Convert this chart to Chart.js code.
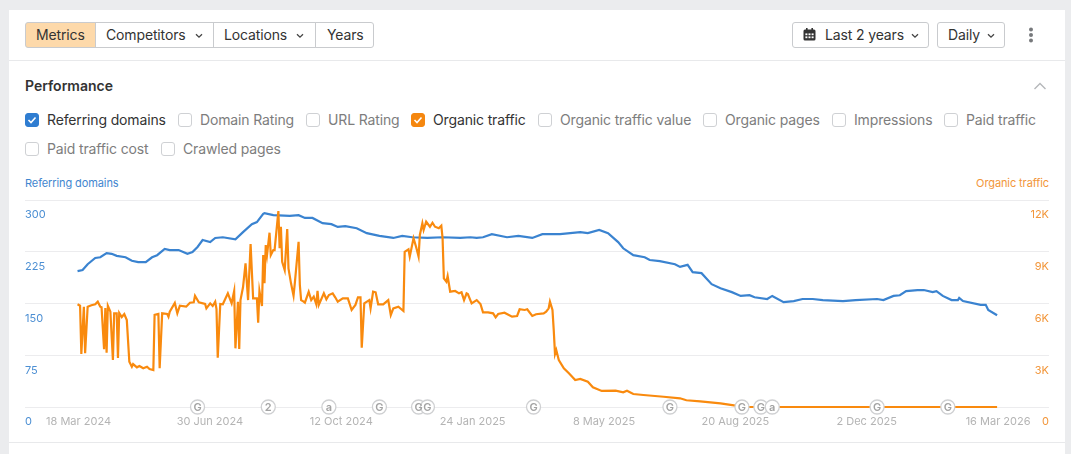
<!DOCTYPE html>
<html>
<head>
<meta charset="utf-8">
<title>Performance</title>
<script src="https://cdn.jsdelivr.net/npm/chart.js@4"></script>
<style>
  html, body { margin: 0; height: 454px; overflow: hidden; background: #ebecee; font-family: Inter, sans-serif; color: #333; }
  #card { position: absolute; left: 9px; top: 10px; width: 1056px; height: 444px; background: #fff; }
  #page { position: absolute; left: 0; top: 0; width: 1071px; height: 454px; }
  .hr { position: absolute; left: 9px; width: 1056px; height: 1px; background: #e8e9eb; }
  .btn { position: absolute; top: 22px; height: 26px; box-sizing: border-box; border: 1px solid #c9cbce; background: #fff; font-size: 14px; line-height: 24px; white-space: nowrap; letter-spacing: -0.14px; }
  .btn svg { vertical-align: 1px; }
  .lbl { position: absolute; font-size: 14px; line-height: 18px; white-space: nowrap; color: #7d7d7d; letter-spacing: -0.14px; }
  .lbl.on { color: #333; }
  .box { position: absolute; width: 14px; height: 14px; box-sizing: border-box; border: 1px solid #cfd1d4; border-radius: 3px; background: #fff; }
  .axis-name { position: absolute; top: 177px; font-size: 11px; line-height: 13px; white-space: nowrap; letter-spacing: -0.1px; }
  canvas { position: absolute; left: 0; top: 190px; }
</style>
</head>
<body>
<div id="card"></div>
<div id="page">
  <div class="hr" style="top:60px"></div>
  <div class="hr" style="top:442px"></div>
  <div style="position:absolute;left:25px;top:77px;font-size:14px;line-height:18px;font-weight:600">Performance</div>
  <svg style="position:absolute;left:1033px;top:81px" width="14" height="10"><path d="M1.5 8 L7 2.5 L12.5 8" fill="none" stroke="#b5b7ba" stroke-width="1.4"/></svg>
  <div class="axis-name" style="left:25px;color:#3f86cf">Referring domains</div>
  <div class="axis-name" style="right:22px;color:#f2963a">Organic traffic</div>
  <svg style="position:absolute;left:1028px;top:27px" width="6" height="16"><circle cx="3" cy="2.5" r="2" fill="#77797c"/><circle cx="3" cy="8" r="2" fill="#77797c"/><circle cx="3" cy="13.5" r="2" fill="#77797c"/></svg>
  <canvas id="chart" width="1071" height="250"></canvas>
</div>
<script>
// Data. Days count from 18 Mar 2024.
const tickDays = [0, 104, 208, 312, 416, 520, 624, 728];
const tickLabels = ['18 Mar 2024', '30 Jun 2024', '12 Oct 2024', '24 Jan 2025', '8 May 2025', '20 Aug 2025', '2 Dec 2025', '16 Mar 2026'];
const refTicks = { 0: '0', 75: '75', 150: '150', 225: '225', 300: '300' };
const orgTicks = { 0: '0', 3000: '3K', 6000: '6K', 9000: '9K', 12000: '12K' };

const refDays = [0, 4, 8, 14, 18, 23, 27, 31, 38, 43, 48, 54, 59, 63, 69, 73, 80, 87, 91, 95, 99, 105, 109, 115, 125, 131, 138, 142, 147, 148, 155, 168, 175, 180, 186, 194, 201, 206, 212, 221, 229, 239, 250, 257, 265, 277, 289, 303, 311, 316, 321, 328, 340, 349, 360, 368, 382, 398, 404, 413, 420, 428, 432, 440, 449, 453, 461, 473, 477, 483, 487, 494, 502, 509, 518, 525, 532, 536, 546, 550, 559, 567, 574, 582, 590, 606, 616, 633, 638, 646, 651, 656, 665, 670, 677, 680, 685, 692, 697, 698, 701, 715, 719, 721, 728];
const refValues = [197, 198.5, 207, 216, 217, 223, 222, 219, 217, 212, 210, 210, 217, 220, 229, 227.5, 227.5, 222, 224.5, 232, 242, 239, 245, 246, 243, 253.5, 265, 268, 280, 281, 278, 277, 278, 274, 274, 266.5, 265, 261, 262, 259, 252, 248, 245, 248, 246, 245, 246, 245, 246, 245, 246, 250.5, 246, 248, 245, 250.5, 250.5, 253.5, 252, 256.5, 252, 239, 230, 220, 217, 213, 211.5, 207, 203, 206, 195.5, 194, 178, 172, 166.5, 161, 162, 159, 156.5, 161, 152, 153.5, 156.5, 156.5, 155, 153.5, 155, 156.5, 155, 161, 162, 168, 169.5, 169.5, 166.5, 168, 161, 155, 155, 158, 153.5, 148, 148, 140.5, 133];

const orgDays = [0, 2, 3, 5, 6, 8, 11, 14, 16, 18, 19, 21, 22, 23, 24, 26, 28, 29, 31, 32, 33, 35, 37, 39, 41, 43, 44, 47, 49, 52, 55, 57, 60, 61, 64, 65, 67, 71, 72, 73, 77, 79, 81, 86, 89, 92, 93, 96, 101, 102, 105, 107, 109, 110, 111, 113, 115, 119, 122, 124, 125, 127, 128, 129, 131, 133, 135, 137, 139, 142, 143, 144, 146, 147, 148, 149, 150, 152, 153, 155, 156, 159, 160, 161, 162, 164, 166, 167, 169, 171, 172, 175, 176, 177, 179, 180, 183, 185, 187, 189, 190, 191, 195, 197, 199, 202, 204, 206, 210, 214, 217, 220, 222, 224, 225, 227, 231, 232, 234, 236, 238, 242, 246, 248, 250, 254, 258, 259, 262, 263, 266, 268, 270, 271, 273, 274, 276, 279, 281, 283, 286, 288, 289, 290, 292, 293, 295, 299, 302, 304, 306, 308, 309, 312, 316, 319, 321, 325, 329, 331, 333, 338, 344, 348, 350, 354, 356, 360, 363, 369, 371, 373, 374, 376, 377, 378, 379, 381, 385, 389, 394, 398, 404, 408, 415, 426, 432, 435, 440, 448, 464, 477, 482, 493, 509, 521, 527, 728];
const orgValues = [5955, 5870, 3070, 5815, 3115, 5815, 5895, 5955, 6105, 5815, 5780, 3345, 5740, 3150, 5870, 5525, 2725, 5430, 5430, 2840, 5450, 5215, 5390, 5040, 2625, 2335, 2490, 2300, 2375, 2245, 2335, 2200, 2145, 5335, 5390, 2245, 5430, 5390, 5235, 5525, 6030, 5430, 5870, 5815, 6045, 6070, 6450, 6070, 5970, 5720, 6010, 5855, 6105, 5680, 2860, 5970, 5955, 6590, 6010, 6725, 3400, 6105, 3360, 6200, 6940, 8330, 6200, 9450, 6300, 6300, 4885, 6725, 5855, 8810, 7170, 9390, 8810, 10105, 8810, 9100, 9100, 11360, 9200, 10450, 8420, 7940, 10320, 8040, 7170, 6450, 7170, 9580, 7070, 6200, 6105, 6045, 6680, 6200, 6395, 5955, 6740, 5915, 6590, 6245, 6490, 6590, 6360, 6105, 6300, 6300, 5625, 5915, 6360, 6360, 3440, 6010, 6200, 5720, 6685, 6650, 5955, 5955, 6200, 5335, 5720, 5815, 5565, 9000, 9140, 8715, 9780, 9290, 8715, 9970, 10650, 10260, 10740, 10450, 10680, 10450, 10360, 10510, 9780, 7460, 7265, 7590, 6685, 6725, 6590, 6650, 6200, 6590, 6550, 6010, 6200, 5970, 5490, 5490, 5430, 5200, 5390, 5465, 5235, 5275, 5665, 5625, 5665, 5275, 5375, 5430, 5525, 5720, 6105, 5625, 4465, 3070, 3305, 2725, 2245, 1955, 1565, 1625, 1465, 1140, 930, 945, 850, 945, 755, 695, 595, 505, 390, 330, 215, 75, 0, 0];

const noteDays = [95, 151, 199, 239, 270, 277, 361, 469, 526, 541, 550, 633, 689];
const noteLetters = ['G', '2', 'a', 'G', 'G', 'G', 'G', 'G', 'G', 'G', 'a', 'G', 'G'];

// Top bar and metric checkboxes
const barButtons = [
  { text: 'Metrics', left: 25, width: 71, pad: 10, on: true },
  { text: 'Competitors', left: 95, width: 119, pad: 10, arrow: true },
  { text: 'Locations', left: 213, width: 103, pad: 10, arrow: true },
  { text: 'Years', left: 315, width: 59, pad: 11 },
];
const metricNames = ['Referring domains', 'Domain Rating', 'URL Rating', 'Organic traffic', 'Organic traffic value', 'Organic pages', 'Impressions', 'Paid traffic', 'Paid traffic cost', 'Crawled pages'];
const metricLefts = [25, 178, 306, 411, 538, 703, 832, 944, 25, 161];
const metricRows = [120, 120, 120, 120, 120, 120, 120, 120, 149, 149];
const metricColors = { 'Referring domains': '#2f7dd1', 'Organic traffic': '#f5870f' };

const page = document.getElementById('page');
const arrow = '<svg width="8" height="6" style="margin-left:9px"><path d="M1 1.2 L4 4.2 L7 1.2" fill="none" stroke="#444" stroke-width="1.3"/></svg>';

barButtons.forEach((b, i) => {
  const el = document.createElement('div');
  el.className = 'btn';
  el.style.cssText = `left:${b.left}px;width:${b.width}px;padding-left:${b.pad}px;` +
    (b.on ? 'background:#fdd9aa;' : '') +
    (i === 0 ? 'border-radius:3px 0 0 3px;' : '') +
    (i === barButtons.length - 1 ? 'border-radius:0 3px 3px 0;' : '');
  el.innerHTML = b.text + (b.arrow ? arrow : '');
  page.appendChild(el);
});

const calendar = '<svg width="13" height="13" style="margin-right:9px;vertical-align:-1px"><rect x="0.5" y="1.5" width="12" height="11" rx="1.5" fill="#333"/><rect x="3" y="0" width="1.6" height="3" fill="#333"/><rect x="8.4" y="0" width="1.6" height="3" fill="#333"/><g fill="#fff"><rect x="2.4" y="5.4" width="2" height="1.8"/><rect x="5.5" y="5.4" width="2" height="1.8"/><rect x="8.6" y="5.4" width="2" height="1.8"/><rect x="2.4" y="8.4" width="2" height="1.8"/><rect x="5.5" y="8.4" width="2" height="1.8"/><rect x="8.6" y="8.4" width="2" height="1.8"/></g></svg>';
[['Last 2 years', 792, 137, 10, calendar], ['Daily', 937, 68, 10, '']].forEach(([text, left, width, pad, icon]) => {
  const el = document.createElement('div');
  el.className = 'btn';
  el.style.cssText = `left:${left}px;width:${width}px;padding-left:${pad}px;border-radius:3px;`;
  el.innerHTML = icon + text + arrow.replace('margin-left:9px', 'margin-left:7px');
  page.appendChild(el);
});

metricNames.forEach((name, i) => {
  const color = metricColors[name];
  const box = document.createElement('div');
  box.className = 'box';
  box.style.left = metricLefts[i] + 'px';
  box.style.top = (metricRows[i] - 7) + 'px';
  if (color) {
    box.style.background = color;
    box.style.borderColor = color;
    box.innerHTML = '<svg width="12" height="12" style="display:block"><path d="M2.5 6 L5 8.5 L9.5 3.5" fill="none" stroke="#fff" stroke-width="1.6"/></svg>';
  }
  page.appendChild(box);
  const lbl = document.createElement('div');
  lbl.className = 'lbl' + (color ? ' on' : '');
  lbl.style.left = (metricLefts[i] + 22) + 'px';
  lbl.style.top = (metricRows[i] - 9) + 'px';
  lbl.textContent = name;
  page.appendChild(lbl);
});

// Letters inside the annotation badges on the baseline
const noteLettersPlugin = {
  id: 'noteLetters',
  afterDatasetsDraw(chart) {
    const { ctx } = chart;
    chart.getDatasetMeta(0).data.forEach((pt, i) => {
      ctx.save();
      ctx.font = '600 11px Inter, sans-serif';
      ctx.fillStyle = '#a3a3a3';
      ctx.textAlign = 'center';
      ctx.textBaseline = 'middle';
      ctx.fillText(noteLetters[i], pt.x, pt.y + 0.5);
      ctx.restore();
    });
  },
};

const pairs = (xs, ys) => xs.map((x, i) => ({ x, y: ys[i] }));
const noFit = (w) => (scale) => { scale.width = w; };
const tickFont = { family: 'Inter, sans-serif', size: 11 };

new Chart(document.getElementById('chart'), {
  type: 'line',
  data: {
    datasets: [
      {
        label: 'Notes', data: noteDays.map((x) => ({ x, y: 0 })), yAxisID: 'y',
        showLine: false, clip: false, pointRadius: 7, pointBorderWidth: 1.3,
        pointBackgroundColor: '#fff', pointBorderColor: '#cfd0d2',
      },
      {
        label: 'Organic traffic', data: pairs(orgDays, orgValues), yAxisID: 'y1', clip: false,
        borderColor: '#f98a0e', borderWidth: 2.2, pointRadius: 0, tension: 0,
      },
      {
        label: 'Referring domains', data: pairs(refDays, refValues), yAxisID: 'y',
        borderColor: '#3a83d0', borderWidth: 2.2, pointRadius: 0, tension: 0,
      },
    ],
  },
  options: {
    responsive: false,
    animation: false,
    layout: { padding: { left: 25, right: 22, top: 10, bottom: 0 } },
    plugins: { legend: { display: false }, tooltip: { enabled: false } },
    scales: {
      x: {
        type: 'linear', min: -41.6, max: 769.1,
        afterBuildTicks: (scale) => { scale.ticks = tickDays.map((value) => ({ value })); },
        afterFit: (scale) => { scale.height = 33; },
        grid: { display: false, drawTicks: false }, border: { display: false },
        ticks: {
          autoSkip: false, maxRotation: 0, padding: 8, labelOffset: 1,
          color: '#b4b4b4', font: tickFont,
          callback: (v) => tickLabels[tickDays.indexOf(v)],
        },
      },
      y: {
        position: 'left', min: 0, max: 300,
        afterFit: noFit(0),
        grid: { color: '#ececee', drawTicks: false }, border: { display: false },
        ticks: {
          stepSize: 75, mirror: true, padding: 0, labelOffset: 15,
          color: '#4c8fd3', font: tickFont,
          callback: (v) => refTicks[v],
        },
      },
      y1: {
        position: 'right', min: 0, max: 12000,
        afterFit: noFit(0),
        grid: { display: false, drawTicks: false }, border: { display: false },
        ticks: {
          stepSize: 3000, mirror: true, padding: 0, labelOffset: 15,
          color: '#f2963a', font: tickFont,
          callback: (v) => orgTicks[v],
        },
      },
    },
  },
  plugins: [noteLettersPlugin],
});
</script>
</body>
</html>
